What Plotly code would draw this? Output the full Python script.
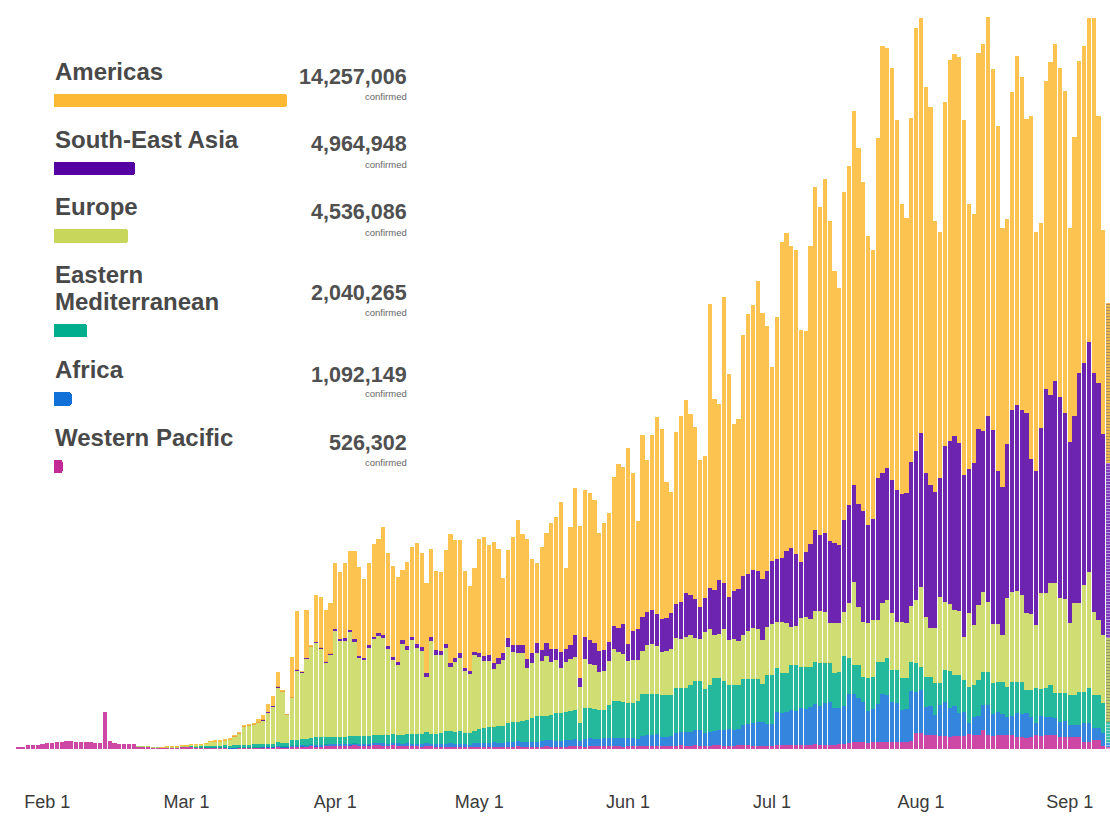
import pandas as pd
import plotly.graph_objects as go

# ---------------- data: daily new confirmed cases (thousands) by WHO region ----------------
dates = pd.date_range("2020-01-26", "2020-09-09", freq="D")

western_pacific = (
    [0.7, 0.7, 1.6, 1.7, 1.8, 2.2]
    + [2.3, 2.6, 2.8, 3.0, 3.4, 3.4, 3.0, 3.0, 2.8, 2.9, 2.6, 2.5, 15.0, 3.4, 2.5, 2.2, 2.1, 2.1, 2.0, 0.8, 0.9, 0.8, 0.6, 0.5, 0.5, 0.6, 0.5, 0.6, 0.8]
    + [0.8, 0.9, 0.7, 0.6, 0.5, 0.5, 0.4, 0.4, 0.4, 0.3, 0.3, 0.4, 0.4, 0.4, 0.5, 0.5, 0.6, 0.7, 0.6, 0.8, 0.7, 0.6, 1.0, 0.9, 1.1, 1.0, 1.2, 1.1, 1.0, 1.2, 1.3]
    + [1.3, 1.4, 1.2, 1.5, 1.6, 1.4, 1.3, 1.5, 1.6, 1.7, 1.4, 1.3, 1.5, 1.4, 1.2, 1.3, 1.2, 1.1, 1.0, 1.2, 1.1, 1.0, 0.9, 0.9, 1.0, 0.8, 0.9, 0.8, 0.7, 0.9]
    + [1.0, 0.8, 0.9, 1.0, 0.8, 0.7, 0.9, 1.0, 1.1, 0.9, 0.8, 0.7, 0.9, 1.0, 1.1, 1.0, 0.9, 0.8, 1.0, 1.1, 1.2, 1.1, 1.0, 1.2, 1.1, 1.1, 1.2, 1.3, 1.2, 1.1, 1.0]
    + [1.2, 1.3, 1.2, 1.1, 1.2, 1.3, 1.4, 1.2, 1.1, 1.3, 1.4, 1.5, 1.3, 1.4, 1.5, 1.3, 1.2, 1.4, 1.5, 1.6, 1.4, 1.3, 1.4, 1.5, 1.6, 1.5, 1.4, 1.3, 1.2, 1.3]
    + [1.4, 1.5, 1.6, 1.8, 1.7, 1.6, 1.5, 1.7, 1.8, 1.9, 1.8, 1.7, 1.6, 1.8, 1.9, 2.0, 2.6, 2.8, 2.9, 2.7, 2.6, 2.8, 3.0, 2.9, 2.8, 2.7, 2.9, 3.0, 2.8, 3.1, 6.4]
    + [6.4, 5.6, 5.6, 5.6, 5.2, 5.4, 5.0, 5.2, 5.3, 5.1, 6.0, 5.6, 5.8, 7.6, 5.6, 5.4, 5.8, 5.6, 5.5, 5.7, 4.8, 5.0, 4.6, 4.8, 5.6, 5.4, 5.8, 5.6, 5.5, 4.8, 4.9]
    + [4.8, 4.7, 4.9, 2.8, 2.9, 3.6, 3.5, 1.2, 0.8]
)

africa = (
    [0, 0, 0, 0, 0, 0]
    + [0, 0, 0, 0, 0, 0, 0, 0, 0, 0, 0, 0, 0, 0, 0, 0, 0, 0, 0, 0, 0, 0, 0, 0, 0, 0, 0, 0, 0]
    + [0, 0, 0, 0, 0.01, 0.02, 0.02, 0.03, 0.04, 0.05, 0.05, 0.06, 0.07, 0.08, 0.1, 0.1, 0.15, 0.2, 0.2, 0.25, 0.3, 0.3, 0.3, 0.35, 0.4, 0.4, 0.45, 0.5, 0.5, 0.55, 0.6]
    + [0.6, 0.6, 0.65, 0.7, 0.6, 0.6, 0.65, 0.7, 0.7, 0.75, 0.9, 0.8, 0.85, 0.9, 0.9, 0.95, 1.0, 1.0, 1.05, 1.1, 1.1, 1.1, 1.2, 1.2, 1.3, 1.2, 1.3, 1.2, 1.1, 1.4]
    + [1.5, 1.6, 1.6, 1.7, 1.8, 1.6, 1.8, 2.0, 2.1, 2.0, 2.2, 2.3, 2.1, 2.2, 2.4, 2.5, 2.4, 2.6, 2.5, 2.7, 2.8, 2.2, 3.0, 3.1, 3.0, 3.0, 3.1, 3.2, 3.4, 3.3, 3.5]
    + [3.2, 3.0, 2.9, 4.2, 4.4, 4.5, 4.6, 3.8, 3.7, 3.9, 5.0, 5.2, 5.4, 5.3, 6.0, 6.2, 5.4, 5.6, 5.8, 6.0, 6.4, 6.6, 6.2, 6.5, 8.2, 8.6, 9.0, 9.4, 9.8, 8.6]
    + [8.6, 13.4, 12.8, 13.2, 14.0, 13.6, 14.8, 14.4, 15.2, 16.0, 15.6, 16.8, 17.2, 14.8, 14.4, 15.2, 19.6, 19.2, 17.6, 16.0, 12.8, 13.2, 15.2, 19.2, 18.8, 16.0, 15.6, 12.8, 13.2, 20.0, 16.4]
    + [17.2, 11.2, 11.6, 8.0, 12.4, 13.6, 11.6, 12.0, 9.2, 9.6, 4.4, 7.2, 7.6, 10.0, 12.0, 8.8, 9.2, 8.6, 7.2, 7.6, 9.6, 9.2, 9.8, 8.0, 4.8, 8.0, 7.2, 7.4, 7.0, 6.0, 6.2]
    + [4.8, 5.0, 4.6, 7.6, 7.4, 4.8, 5.0, 5.2, 1.6]
)

eastern_mediterranean = (
    [0, 0, 0, 0, 0, 0]
    + [0, 0, 0, 0, 0, 0, 0, 0, 0, 0, 0, 0, 0, 0, 0, 0, 0, 0, 0, 0.01, 0.02, 0.03, 0.05, 0.05, 0.1, 0.1, 0.1, 0.1, 0.2]
    + [0.2, 0.3, 0.4, 0.5, 0.6, 0.7, 0.9, 0.9, 1.0, 1.0, 1.1, 1.2, 1.3, 1.3, 1.3, 1.4, 1.2, 1.3, 1.4, 1.6, 1.5, 1.6, 2.3, 2.3, 2.4, 2.7, 2.6, 3.3, 3.2, 3.1, 3.0]
    + [2.9, 3.0, 3.1, 3.0, 3.1, 3.2, 3.1, 3.2, 3.3, 3.2, 3.4, 3.5, 3.6, 3.5, 3.6, 3.7, 3.7, 3.8, 3.9, 4.4, 4.0, 4.1, 4.4, 5.0, 5.0, 5.0, 4.9, 4.6, 4.7, 4.8]
    + [5.5, 6.2, 6.2, 6.1, 6.8, 7.0, 7.6, 7.8, 7.7, 8.2, 8.8, 9.5, 10.1, 10.0, 9.8, 10.1, 11.0, 11.2, 11.3, 11.5, 11.8, 7.2, 12.4, 12.3, 12.0, 11.4, 11.3, 13.2, 14.6, 14.7, 14.5]
    + [14.0, 14.2, 15.1, 16.6, 16.4, 16.3, 16.2, 16.6, 16.7, 16.3, 18.0, 17.8, 17.6, 18.9, 19.8, 19.6, 17.6, 18.6, 21.2, 21.0, 19.4, 17.6, 18.0, 17.7, 18.4, 18.0, 17.6, 17.2, 15.2, 19.6]
    + [19.6, 17.6, 16.0, 15.6, 18.0, 18.4, 16.4, 16.8, 16.0, 16.8, 17.2, 16.0, 15.6, 14.0, 14.4, 20.0, 14.4, 11.6, 13.2, 10.0, 13.2, 12.8, 16.8, 12.8, 14.8, 12.8, 13.2, 12.8, 12.4, 11.6, 11.6]
    + [9.2, 12.0, 11.6, 12.8, 8.8, 12.8, 14.8, 12.4, 15.2, 12.8, 14.4, 12.8, 14.4, 13.2, 13.2, 12.4, 12.0, 12.6, 12.0, 13.6, 12.4, 12.8, 9.2, 10.8, 14.0, 10.8, 11.6, 12.6, 9.8, 11.6, 11.4]
    + [12.0, 11.8, 13.2, 12.4, 14.0, 13.2, 13.0, 12.0, 8.4]
)

europe = (
    [0, 0, 0, 0, 0, 0]
    + [0, 0, 0, 0, 0, 0, 0, 0, 0, 0, 0, 0, 0, 0, 0, 0, 0, 0, 0, 0.01, 0.02, 0.05, 0.05, 0.1, 0.15, 0.2, 0.2, 0.2, 0.2]
    + [0.3, 0.4, 0.5, 0.8, 1.1, 1.8, 1.8, 1.8, 2.0, 2.5, 3.5, 4.4, 7.3, 7.6, 7.7, 8.5, 9.6, 12.4, 14.8, 22.0, 20.4, 11.2, 16.8, 28.0, 26.8, 32.0, 36.8, 37.6, 35.6, 29.6, 32.8]
    + [42.4, 38.4, 38.4, 41.6, 37.6, 31.2, 30.4, 35.2, 38.4, 39.6, 38.8, 34.4, 29.6, 28.0, 36.4, 33.6, 37.6, 34.4, 33.2, 22.0, 37.2, 31.6, 31.2, 33.2, 25.6, 28.0, 29.2, 24.8, 23.6, 30.4]
    + [28.8, 26.8, 26.4, 23.2, 24.8, 26.4, 30.4, 28.0, 27.6, 27.2, 20.8, 22.0, 25.2, 22.0, 24.0, 21.2, 21.2, 18.0, 20.0, 20.8, 21.2, 14.4, 19.6, 17.6, 17.6, 15.2, 15.6, 17.6, 20.8, 19.6, 19.2]
    + [16.8, 17.2, 16.4, 17.2, 19.6, 20.0, 19.2, 17.2, 17.6, 18.4, 20.0, 19.6, 20.4, 20.0, 17.2, 16.8, 22.8, 22.4, 17.2, 17.6, 20.8, 18.0, 18.4, 17.6, 17.6, 19.2, 20.4, 20.0, 17.6, 19.2]
    + [20.4, 18.4, 20.4, 20.0, 15.2, 15.6, 19.6, 20.0, 19.2, 20.4, 20.8, 20.4, 16.0, 20.0, 19.6, 17.6, 22.0, 33.2, 23.2, 22.0, 22.0, 22.8, 16.8, 23.6, 23.2, 22.8, 19.2, 22.4, 22.0, 22.4, 25.2]
    + [32.0, 24.0, 19.6, 22.0, 34.4, 27.2, 26.8, 26.0, 25.6, 17.2, 29.6, 24.0, 30.0, 32.0, 28.0, 23.6, 23.2, 18.8, 35.6, 36.0, 36.4, 34.8, 30.8, 30.4, 25.2, 38.4, 38.0, 40.8, 44.0, 38.0, 37.6]
    + [28.8, 36.8, 35.6, 42.8, 46.4, 33.2, 30.0, 27.2, 33.6]
)

south_east_asia = (
    [0, 0, 0, 0, 0, 0]
    + [0, 0, 0, 0, 0, 0, 0, 0, 0, 0, 0, 0, 0, 0, 0, 0, 0, 0, 0, 0, 0, 0, 0, 0, 0, 0, 0, 0, 0]
    + [0, 0, 0, 0, 0, 0, 0, 0, 0, 0, 0.02, 0.03, 0.05, 0.05, 0.06, 0.1, 0.1, 0.1, 0.15, 0.2, 0.15, 0.1, 0.1, 0.15, 0.1, 0.2, 0.1, 0.3, 0.3, 0.4, 0.4]
    + [1.0, 0.7, 0.9, 0.8, 1.0, 0.9, 0.8, 1.1, 1.0, 1.2, 1.2, 1.1, 1.3, 1.2, 1.4, 1.5, 1.4, 1.6, 1.5, 1.7, 1.6, 1.8, 1.7, 1.6, 1.6, 1.6, 2.0, 1.2, 1.2, 1.2]
    + [1.6, 2.0, 2.4, 2.4, 2.4, 2.8, 3.6, 2.8, 3.2, 3.2, 3.6, 4.0, 4.0, 4.4, 5.2, 5.2, 4.4, 6.4, 5.2, 5.6, 8.8, 3.6, 8.8, 9.6, 8.8, 8.4, 8.4, 7.6, 9.2, 9.6, 12.0]
    + [6.8, 11.6, 12.4, 13.6, 13.2, 13.6, 12.8, 13.2, 13.2, 14.4, 13.6, 14.8, 17.6, 16.0, 15.6, 12.8, 13.6, 16.4, 18.0, 21.6, 18.4, 17.2, 19.2, 20.8, 23.6, 22.8, 23.2, 23.2, 24.4, 22.4]
    + [25.2, 25.2, 25.6, 28.8, 31.6, 28.8, 22.4, 26.0, 30.0, 32.4, 30.4, 31.6, 32.8, 32.0, 31.2, 36.8, 39.2, 38.8, 41.2, 44.4, 39.2, 40.4, 56.8, 52.0, 52.8, 53.2, 52.8, 51.2, 52.0, 57.6, 59.6]
    + [61.6, 57.6, 57.2, 54.4, 47.6, 62.4, 65.2, 69.6, 67.2, 64.8, 57.6, 64.8, 70.4, 64.4, 74.4, 77.6, 61.2, 59.2, 61.6, 72.8, 74.4, 74.0, 80.0, 62.0, 61.6, 66.0, 81.6, 75.2, 80.8, 80.4, 74.4]
    + [72.4, 74.8, 92.0, 88.8, 92.0, 95.6, 94.8, 80.4, 70.0]
)

americas = (
    [0, 0, 0, 0, 0, 0]
    + [0, 0, 0, 0, 0, 0, 0, 0, 0, 0, 0, 0, 0, 0, 0, 0, 0, 0, 0, 0, 0, 0, 0, 0, 0.01, 0.01, 0.01, 0.01, 0.02]
    + [0.05, 0.05, 0.05, 0.1, 0.1, 0.1, 0.1, 0.1, 0.2, 0.2, 0.3, 0.4, 0.5, 0.6, 0.8, 1.4, 1.9, 3.5, 3.9, 5.8, 0.7, 0.1, 16.3, 23.5, 0.2, 19.4, 0.2, 18.9, 20.1, 20.8, 20.4]
    + [26.2, 26.9, 30.3, 31.6, 35.4, 35.5, 31.6, 32.9, 37.0, 37.6, 43.2, 37.3, 36.3, 34.0, 28.2, 33.7, 35.8, 40.4, 37.7, 35.9, 35.2, 31.8, 31.5, 37.6, 51.6, 47.2, 45.2, 38.8, 34.0, 33.6]
    + [45.6, 47.6, 44.0, 48.4, 43.6, 30.0, 35.2, 43.2, 50.0, 44.4, 48.0, 37.6, 32.0, 41.2, 44.0, 50.4, 52.8, 60.0, 32.4, 47.2, 58.8, 60.8, 58.8, 58.8, 57.2, 47.2, 50.8, 51.6, 59.6, 65.6, 62.8]
    + [78.4, 63.2, 43.2, 72.8, 60.8, 70.0, 78.8, 76.0, 54.4, 48.4, 68.8, 74.4, 77.2, 72.4, 68.8, 58.8, 56.8, 113.6, 76.4, 70.4, 114.4, 89.2, 66.8, 68.0, 96.4, 104.0, 106.0, 116.0, 106.4, 98.0]
    + [77.6, 96.8, 126.4, 127.2, 120.8, 121.6, 92.8, 88.4, 119.2, 137.2, 131.2, 141.6, 128.0, 108.8, 102.8, 131.2, 135.6, 149.6, 142.4, 131.6, 115.6, 107.6, 136.0, 170.8, 168.0, 164.8, 148.0, 116.0, 110.0, 137.6, 169.2]
    + [166.0, 154.4, 151.2, 108.4, 98.4, 137.6, 152.4, 152.8, 154.4, 142.0, 106.0, 99.6, 150.4, 154.8, 159.6, 144.4, 138.0, 103.6, 90.0, 127.2, 139.6, 133.2, 117.6, 137.2, 95.6, 82.0, 123.2, 133.2, 134.8, 131.6, 128.8]
    + [85.6, 111.6, 124.8, 126.8, 129.6, 142.0, 106.8, 81.6, 64.0]
)

# legend panel: cumulative confirmed cases
region_names = ["Americas", "South-East Asia", "Europe", "Eastern Mediterranean", "Africa", "Western Pacific"]
region_totals = [14257006, 4964948, 4536086, 2040265, 1092149, 526302]

tick_dates = ["2020-02-01", "2020-03-01", "2020-04-01", "2020-05-01", "2020-06-01",
              "2020-07-01", "2020-08-01", "2020-09-01"]
tick_labels = ["Feb 1", "Mar 1", "Apr 1", "May 1", "Jun 1", "Jul 1", "Aug 1", "Sep 1"]

for s in (western_pacific, africa, eastern_mediterranean, europe, south_east_asia, americas):
    assert len(s) == len(dates), len(s)

# ---------------- styling ----------------
W, H = 1110, 816
BASE_PX = 749          # baseline of the bars (px from top)
K_PER_PX = 0.4         # thousands of cases per pixel
FONT = "Liberation Sans, Arial, Helvetica, sans-serif"

colors = {
    "Americas": "#FDB933",
    "South-East Asia": "#5500A3",
    "Europe": "#C8D75B",
    "Eastern Mediterranean": "#00AE8D",
    "Africa": "#1271D9",
    "Western Pacific": "#C42A95",
}

stack = [  # bottom -> top
    ("Western Pacific", western_pacific),
    ("Africa", africa),
    ("Eastern Mediterranean", eastern_mediterranean),
    ("Europe", europe),
    ("South-East Asia", south_east_asia),
    ("Americas", americas),
]

fig = go.Figure()
n = len(dates)
pattern_shapes = [""] * (n - 1) + ["-"]   # last (partial) day drawn hatched
for name, vals in stack:
    fig.add_trace(go.Bar(
        x=dates, y=vals, name=name,
        marker=dict(color=colors[name], opacity=0.86, line=dict(width=0),
                    pattern=dict(shape=pattern_shapes, size=3, solidity=0.5)),
        showlegend=False, hoverinfo="x+y+name",
    ))

# legend bars (proportional to cumulative totals)
legend_bar_y = [100.3, 168.3, 236.0, 330.7, 399.0, 466.7]
fig.add_trace(go.Bar(
    x=region_totals, y=legend_bar_y, orientation="h", width=13.5,
    marker=dict(color=[colors[r] for r in region_names], cornerradius=3, line=dict(width=0)),
    xaxis="x2", yaxis="y2", showlegend=False, hoverinfo="skip",
))

annotations = []
name_y = [71.5, 139.0, 206.0, None, 369.0, 437.0]
for r, yy in zip(region_names, name_y):
    if yy is None:
        continue
    annotations.append(dict(text=f"<b>{r}</b>", x=53 / W, xref="paper", y=yy, yref="y2",
                            xanchor="left", yanchor="middle", showarrow=False,
                            font=dict(family=FONT, size=24, color="#484848")))
for txt, yy in (("Eastern", 274.5), ("Mediterranean", 301.5)):
    annotations.append(dict(text=f"<b>{txt}</b>", x=53 / W, xref="paper", y=yy, yref="y2",
                            xanchor="left", yanchor="middle", showarrow=False,
                            font=dict(family=FONT, size=24, color="#484848")))

num_y = [76.5, 144.0, 212.0, 292.5, 375.0, 442.5]
conf_y = [96.0, 164.0, 232.0, 312.5, 393.5, 462.0]
for tot, yy, cy in zip(region_totals, num_y, conf_y):
    annotations.append(dict(text=f"<b>{tot:,}</b>", x=409 / W, xref="paper", y=yy, yref="y2",
                            xanchor="right", yanchor="middle", showarrow=False,
                            font=dict(family=FONT, size=21.5, color="#505050")))
    annotations.append(dict(text="confirmed", x=409 / W, xref="paper", y=cy, yref="y2",
                            xanchor="right", yanchor="middle", showarrow=False,
                            font=dict(family=FONT, size=9.5, color="#666666")))

fig.update_layout(
    width=W, height=H,
    margin=dict(l=0, r=0, t=0, b=0),
    paper_bgcolor="white", plot_bgcolor="rgba(0,0,0,0)",
    barmode="stack", bargap=0.1,
    annotations=annotations,
    xaxis=dict(
        type="date", domain=[0, 1], range=["2020-01-22 03:30", "2020-09-09 09:30"],
        tickvals=tick_dates, ticktext=tick_labels,
        ticks="outside", ticklen=36, tickcolor="rgba(0,0,0,0)",
        tickfont=dict(family=FONT, size=18, color="#3a3a3a"),
        showgrid=False, zeroline=False, showline=False, automargin=False,
    ),
    yaxis=dict(
        domain=[(H - BASE_PX) / H, 1], range=[0, BASE_PX * K_PER_PX],
        visible=False, showgrid=False, zeroline=False, automargin=False,
    ),
    xaxis2=dict(domain=[54 / W, 287 / W], range=[0, region_totals[0]], anchor="y2",
                visible=False, fixedrange=True),
    yaxis2=dict(domain=[0, 1], range=[H, 0], anchor="x2", visible=False, fixedrange=True),
    font=dict(family=FONT),
)

fig.write_html(
    "out.html",
    config={"displayModeBar": False},
    post_script="document.body.style.margin='0px';document.body.style.overflow='hidden';",
)
